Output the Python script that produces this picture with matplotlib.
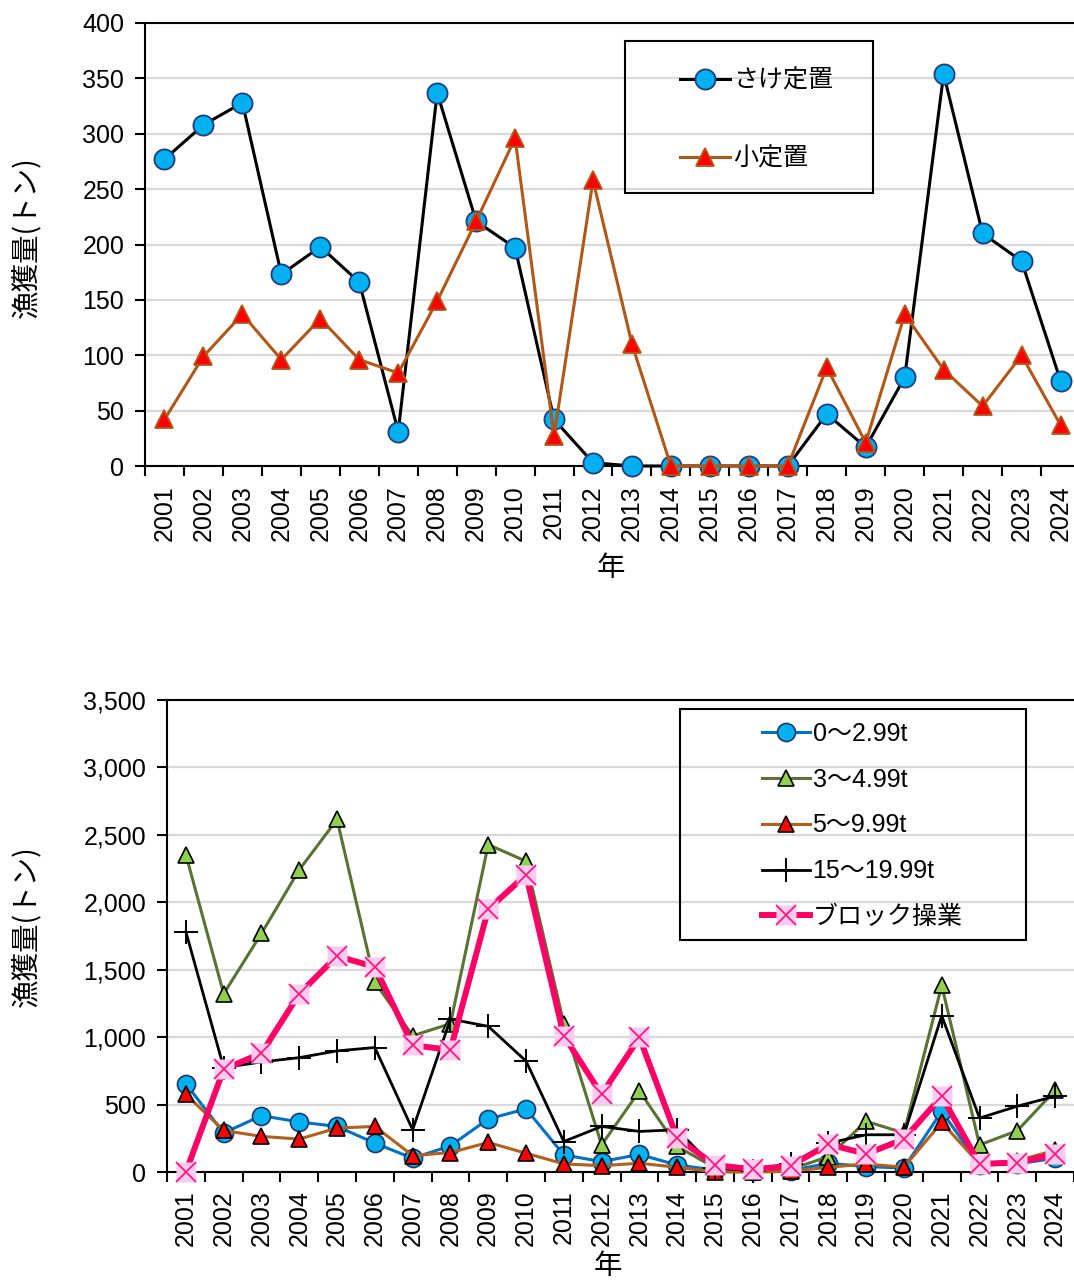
import matplotlib
matplotlib.use("Agg")
import matplotlib.pyplot as plt
from matplotlib.patches import Rectangle
from matplotlib.legend_handler import HandlerTuple
from matplotlib.ticker import FuncFormatter

plt.rcParams['font.family'] = ['Liberation Sans', 'Noto Sans CJK JP', 'DejaVu Sans']

years = [str(y) for y in range(2001, 2025)]

# Top chart
sake_teichi = [277, 308, 328, 173, 198, 166, 31, 337, 221, 197, 42, 3, 0, 0, 0, 0, 0, 47, 17, 80, 354, 210, 185, 77]
sho_teichi = [42, 99, 137, 96, 133, 96, 84, 149, 221, 296, 27, 258, 110, 0, 0, 0, 0, 89, 21, 137, 87, 54, 100, 37]

# Bottom chart
t0_299 = [654, 289, 418, 371, 338, 214, 102, 194, 393, 468, 127, 77, 130, 52, 15, 5, 10, 65, 40, 30, 450, 52, 60, 102]
t3_499 = [2353, 1321, 1769, 2241, 2614, 1408, 1010, 1100, 2428, 2304, 1100, 201, 600, 190, 30, 10, 20, 114, 376, 289, 1383, 201, 306, 605]
t5_999 = [575, 308, 264, 244, 326, 338, 122, 144, 219, 139, 60, 47, 65, 35, 0, 0, 5, 35, 60, 35, 368, 60, 85, 160]
t15_1999 = [1781, 774, 816, 848, 898, 923, 313, 1134, 1080, 823, 226, 338, 301, 313, 30, 10, 60, 214, 276, 276, 1159, 400, 488, 562]
block = [0, 761, 881, 1321, 1602, 1520, 940, 905, 1948, 2204, 1010, 575, 998, 251, 52, 20, 45, 206, 134, 244, 562, 60, 70, 132]

top_labels = ['さけ定置', '小定置']
bot_labels = ['0～2.99t', '3～4.99t', '5～9.99t', '15～19.99t', 'ブロック操業']

W, H = 1074, 1286
fig = plt.figure(figsize=(W / 100, H / 100), dpi=100)

def px_axes(l, t, r, b):
    return fig.add_axes([l / W, 1 - b / H, (r - l) / W, (b - t) / H])

FS = 18
LFS = 20.5
x = list(range(len(years)))

def style_axes(ax, ymax, ystep, fmt, xpad):
    ax.set_xlim(-0.5, len(years) - 0.5)
    ax.set_ylim(0, ymax)
    ax.set_yticks(range(0, ymax + 1, ystep))
    ax.yaxis.set_major_formatter(FuncFormatter(fmt))
    ax.set_xticks(x)
    ax.set_xticklabels(years, rotation=90)
    ax.set_xticks([i - 0.5 for i in range(len(years) + 1)], minor=True)
    ax.tick_params(axis='x', which='major', length=0, labelsize=FS, pad=xpad)
    ax.tick_params(axis='x', which='minor', length=7, width=1.5, direction='out')
    ax.tick_params(axis='y', length=7, width=1.5, direction='out', labelsize=FS, pad=8)
    ax.grid(axis='y', color='#d9d9d9', linewidth=1.6)
    ax.set_axisbelow(True)
    for s in ['left', 'bottom', 'top']:
        ax.spines[s].set_linewidth(1.5)
        ax.spines[s].set_color('black')
    ax.spines['right'].set_visible(False)
    for lab in ax.get_xticklabels() + ax.get_yticklabels():
        lab.set_family(['Liberation Sans', 'DejaVu Sans'])

# ---------- Top ----------
ax1 = px_axes(145, 23, 1080, 466)
style_axes(ax1, 400, 50, lambda v, p: f"{int(v)}", 14)
l1, = ax1.plot(x, sake_teichi, color='black', lw=2.2, marker='o', ms=14.5,
               mfc='#00b0f0', mec='#1f3f7a', mew=1.3, clip_on=False, zorder=3)
l2, = ax1.plot(x, sho_teichi, color='#b0581a', lw=2.2, marker='^', ms=12.5,
               mfc='#ff0000', mec='#b0581a', mew=1.3, clip_on=False, zorder=4)
ax1.set_ylabel('漁獲量(トン)', fontsize=LFS, family=['Noto Sans CJK JP'])
ax1.set_xlabel('年', fontsize=LFS, family=['Noto Sans CJK JP'])
ax1.yaxis.set_label_coords(-(145 - 41) / 935, (466 - 237) / 443)
ax1.xaxis.set_label_coords((611 - 145) / 935, -(553 - 466) / 443)

fig.add_artist(Rectangle((625 / W, 1 - 193 / H), (873 - 625) / W, (193 - 41) / H,
                         transform=fig.transFigure, fill=False, edgecolor='black', lw=1.5))
leg1 = fig.legend([l1, l2], top_labels, loc='upper left',
                  bbox_to_anchor=(680 / W, 1 - 69 / H), frameon=False,
                  handlelength=2.0, handletextpad=0.12,
                  labelspacing=2.13, borderpad=0, borderaxespad=0,
                  prop={'family': ['Liberation Sans', 'Noto Sans CJK JP'], 'size': FS})

# ---------- Bottom ----------
ax2 = px_axes(167, 700, 1074, 1172)
style_axes(ax2, 3500, 500, lambda v, p: f"{int(v):,}", 13)
b1, = ax2.plot(x, t0_299, color='#0070c0', lw=2.2, marker='o', ms=13,
               mfc='#00b0f0', mec='#1f3864', mew=1.2, clip_on=False, zorder=3)
b2, = ax2.plot(x, t3_499, color='#5a7233', lw=2.2, marker='^', ms=12,
               mfc='#92d050', mec='black', mew=1.2, clip_on=False, zorder=4)
b3, = ax2.plot(x, t5_999, color='#b0601f', lw=2.2, marker='^', ms=12,
               mfc='#ff0000', mec='black', mew=1.2, clip_on=False, zorder=5)
b4, = ax2.plot(x, t15_1999, color='black', lw=2.0, marker='+', ms=17,
               mec='black', mew=1.4, clip_on=False, zorder=6)
b5, = ax2.plot(x, block, color='#ff0066', lw=4.3, marker='s', ms=15,
               mfc='#ffccf0', mec='none', clip_on=False, zorder=7)
b5x, = ax2.plot(x, block, ls='none', marker='x', ms=14,
                mec='#ff1a80', mew=1.3, clip_on=False, zorder=8)
ax2.set_ylabel('漁獲量(トン)', fontsize=LFS, family=['Noto Sans CJK JP'])
ax2.set_xlabel('年', fontsize=LFS, family=['Noto Sans CJK JP'])
ax2.yaxis.set_label_coords(-(167 - 41) / 907, 0.52)
ax2.xaxis.set_label_coords((608 - 167) / 907, -(1251 - 1172) / 472)

fig.add_artist(Rectangle((680 / W, 1 - 940 / H), (1026 - 680) / W, (940 - 709) / H,
                         transform=fig.transFigure, fill=False, edgecolor='black', lw=1.5))
leg2 = fig.legend([b1, b2, b3, b4, (b5, b5x)], bot_labels, loc='upper left',
                  bbox_to_anchor=(762 / W, 1 - 722 / H), frameon=False,
                  handlelength=1.9, handletextpad=0.12,
                  labelspacing=0.87, borderpad=0, borderaxespad=0,
                  handler_map={tuple: HandlerTuple(ndivide=1)},
                  prop={'family': ['Liberation Sans', 'Noto Sans CJK JP'], 'size': FS})

fig.savefig('out.png', dpi=100)
